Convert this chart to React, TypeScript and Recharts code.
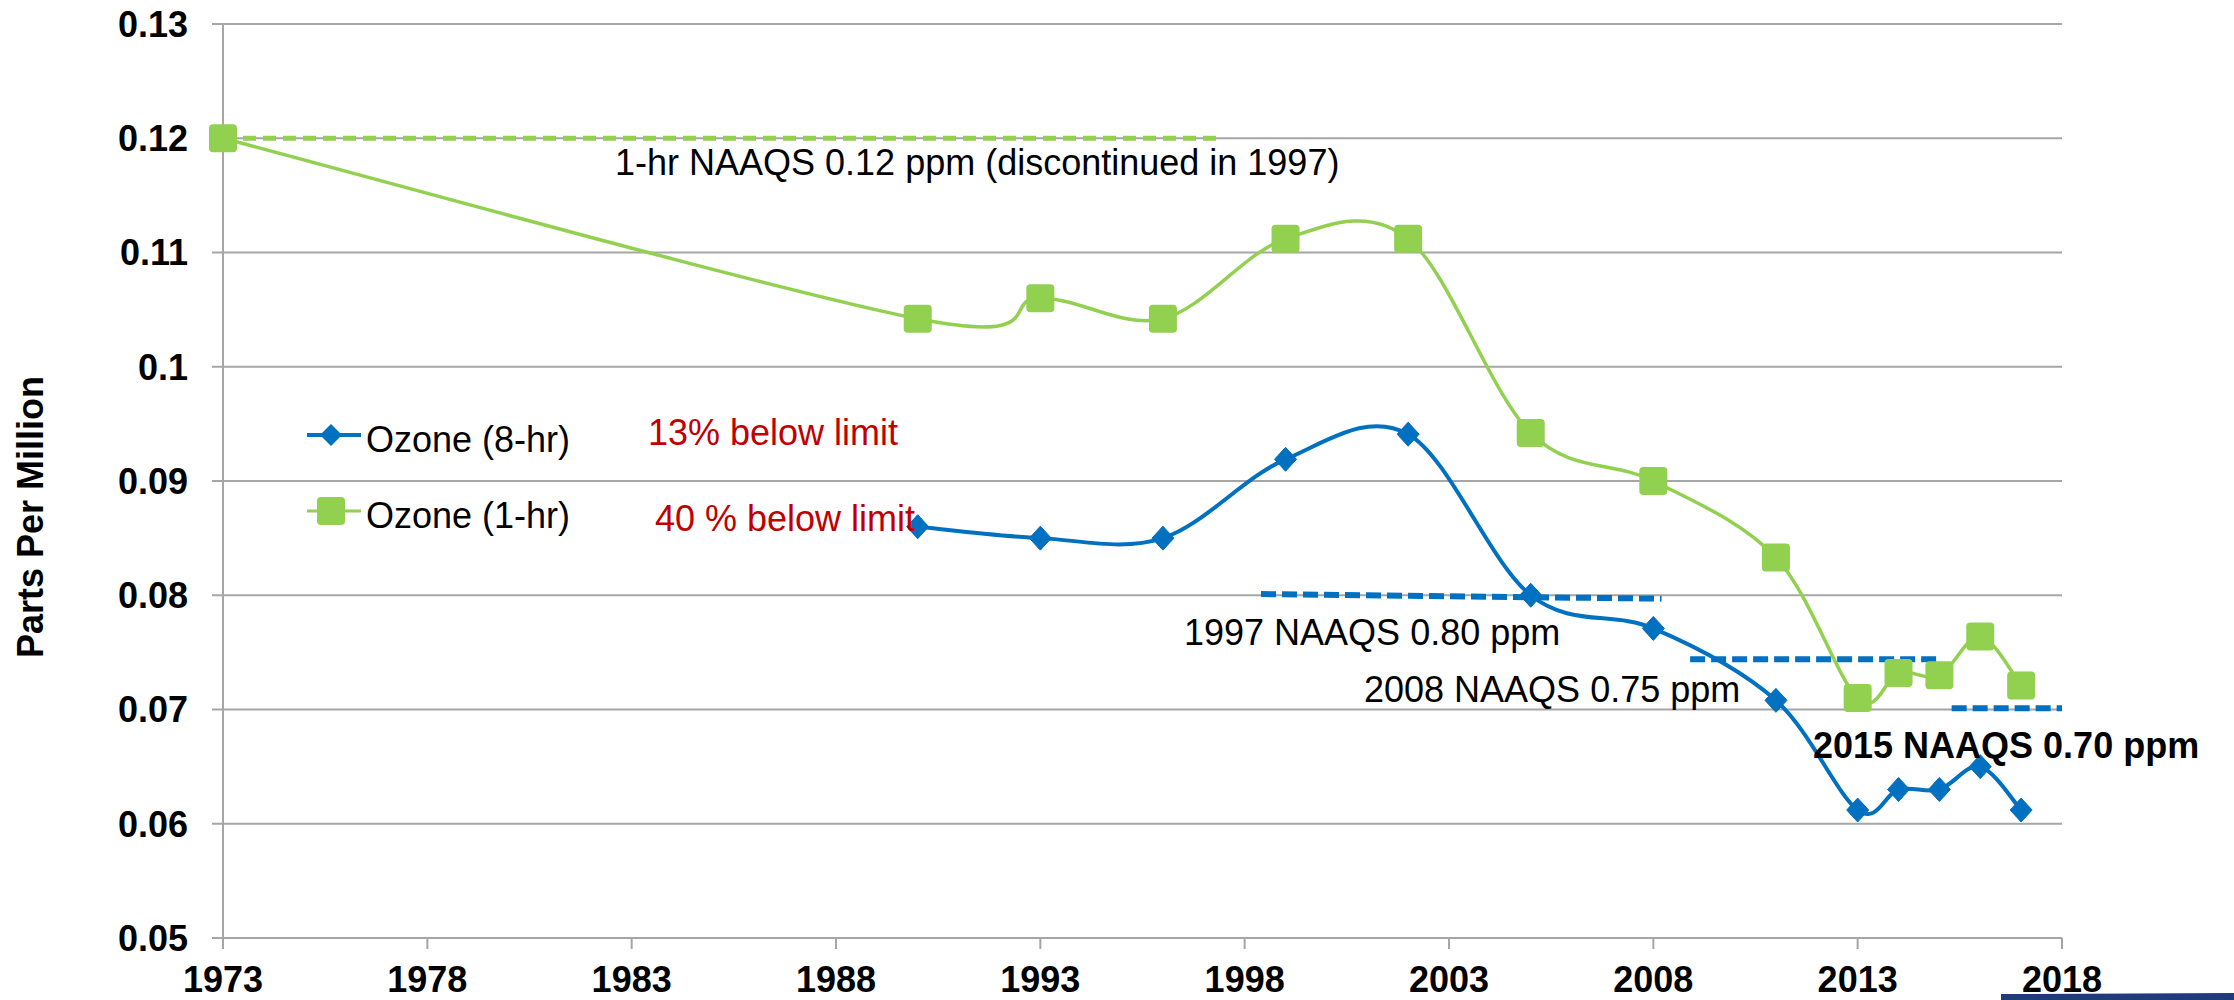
import { LineChart, Line, XAxis, YAxis, CartesianGrid, ReferenceLine, Legend } from 'recharts'

// ozone design values, ppm
const YEARS_8HR = [1990, 1993, 1996, 1999, 2002, 2005, 2008, 2011, 2013, 2014, 2015, 2016, 2017]
const OZONE_8HR = [0.086, 0.085, 0.085, 0.0919, 0.0941, 0.080, 0.0771, 0.0708, 0.0612, 0.063, 0.063, 0.065, 0.0612]

const YEARS_1HR = [1973, 1990, 1993, 1996, 1999, 2002, 2005, 2008, 2011, 2013, 2014, 2015, 2016, 2017]
const OZONE_1HR = [0.12, 0.1042, 0.106, 0.1042, 0.1112, 0.1112, 0.0942, 0.09, 0.0833, 0.071, 0.0732, 0.073, 0.0764, 0.0721]

const X_TICKS = [1973, 1978, 1983, 1988, 1993, 1998, 2003, 2008, 2013, 2018]
const Y_TICKS = [0.05, 0.06, 0.07, 0.08, 0.09, 0.1, 0.11, 0.12, 0.13]

// standards drawn as dashed segments: [x1, x2, y1, y2]
const STD_1HR = [1973, 1997.3, 0.12, 0.12]
const STD_8HR = [
  [1998.4, 2008.2, 0.0801, 0.0797],
  [2008.9, 2015.0, 0.0744, 0.0744],
  [2015.3, 2018, 0.0701, 0.0701],
]

const BLUE = '#0070C0'
const GREEN = '#92D050'
const GRID = '#A6A6A6'
const FONT = '"Liberation Sans", Arial, sans-serif'

const data8 = YEARS_8HR.map((year, i) => ({ year, value: OZONE_8HR[i] }))
const data1 = YEARS_1HR.map((year, i) => ({ year, value: OZONE_1HR[i] }))

// Excel-like smoothed line (catmull-rom through the points)
const smoothCurve = (context: any) => {
  let pts: number[][] = []
  return {
    areaStart() {},
    areaEnd() {},
    lineStart() { pts = [] },
    point(x: number, y: number) { pts.push([+x, +y]) },
    lineEnd() {
      const n = pts.length
      if (!n) return
      context.moveTo(pts[0][0], pts[0][1])
      const k = 1 / 6
      for (let i = 0; i < n - 1; i++) {
        const p0 = pts[Math.max(i - 1, 0)]
        const p1 = pts[i]
        const p2 = pts[i + 1]
        const p3 = pts[Math.min(i + 2, n - 1)]
        context.bezierCurveTo(
          p1[0] + (p2[0] - p0[0]) * k, p1[1] + (p2[1] - p0[1]) * k,
          p2[0] - (p3[0] - p1[0]) * k, p2[1] - (p3[1] - p1[1]) * k,
          p2[0], p2[1]
        )
      }
    },
  }
}

const Diamond = (props: any) => {
  const { cx, cy } = props
  if (cx == null || cy == null) return <g key={props.key} />
  return <polygon key={props.key} points={`${cx},${cy - 12} ${cx + 11},${cy} ${cx},${cy + 12} ${cx - 11},${cy}`} fill={BLUE} stroke={BLUE} strokeWidth={1} strokeLinejoin="round" />
}

const Square = (props: any) => {
  const { cx, cy } = props
  if (cx == null || cy == null) return <g key={props.key} />
  return <rect key={props.key} x={cx - 14} y={cy - 14} width={28} height={28} rx={4} fill={GREEN} />
}

const LegendBox = () => (
  <svg width={330} height={140} style={{ overflow: 'visible' }}>
    <line x1={7} y1={30} x2={61} y2={30} stroke={BLUE} strokeWidth={4} />
    <polygon points="31,19 42,30 31,41 20,30" fill={BLUE} />
    <text x={66} y={47} fontSize={36} fontFamily={FONT} fill="#000">Ozone (8-hr)</text>
    <line x1={7} y1={106} x2={61} y2={106} stroke={GREEN} strokeWidth={3} />
    <rect x={17} y={92} width={28} height={28} rx={4} fill={GREEN} />
    <text x={66} y={123} fontSize={36} fontFamily={FONT} fill="#000">Ozone (1-hr)</text>
  </svg>
)

const fmtY = (v: number) => String(Number(v.toFixed(2)))

export default function App() {
  return (
    <div style={{ position: 'absolute', left: 0, top: 0, width: 2234, height: 1000, background: '#fff', fontFamily: FONT }}>
      <LineChart width={2234} height={1000} margin={{ top: 24, right: 172, bottom: 0, left: 0 }}>
        <CartesianGrid vertical={false} stroke={GRID} strokeWidth={2} />
        <XAxis
          type="number"
          dataKey="year"
          domain={[1973, 2018]}
          ticks={X_TICKS}
          height={62}
          tickSize={11}
          tickMargin={17}
          axisLine={{ stroke: GRID, strokeWidth: 2 }}
          tickLine={{ stroke: GRID, strokeWidth: 2 }}
          tick={{ fill: '#000', fontSize: 36, fontWeight: 'bold', fontFamily: FONT }}
          interval={0}
        />
        <YAxis
          type="number"
          domain={[0.05, 0.13]}
          ticks={Y_TICKS}
          width={223}
          tickSize={11}
          tickMargin={24}
          tickFormatter={fmtY}
          axisLine={{ stroke: GRID, strokeWidth: 2 }}
          tickLine={{ stroke: GRID, strokeWidth: 2 }}
          tick={{ fill: '#000', fontSize: 36, fontWeight: 'bold', fontFamily: FONT }}
          interval={0}
          label={{
            content: () => (
              <text x={43} y={517} transform="rotate(-90, 43, 517)" textAnchor="middle" fontSize={36} fontWeight="bold" fontFamily={FONT} fill="#000">
                Parts Per Million
              </text>
            ),
          }}
        />
        <ReferenceLine
          segment={[{ x: STD_1HR[0], y: STD_1HR[2] }, { x: STD_1HR[1], y: STD_1HR[3] }]}
          stroke={GREEN}
          strokeWidth={5}
          strokeDasharray="13 7"
        />
        {STD_8HR.map((s, i) => (
          <ReferenceLine
            key={i}
            segment={[{ x: s[0], y: s[2] }, { x: s[1], y: s[3] }]}
            stroke={BLUE}
            strokeWidth={6}
            strokeDasharray="15 6"
            ifOverflow="extendDomain"
          />
        ))}
        <Line data={data1} dataKey="value" name="Ozone (1-hr)" type={smoothCurve as any} stroke={GREEN} strokeWidth={3.5} dot={Square} activeDot={false} isAnimationActive={false} />
        <Line data={data8} dataKey="value" name="Ozone (8-hr)" type={smoothCurve as any} stroke={BLUE} strokeWidth={4} dot={Diamond} activeDot={false} isAnimationActive={false} />
        <Legend
          layout="vertical"
          align="center"
          verticalAlign="middle"
          content={LegendBox}
          wrapperStyle={{ left: 300, top: 405, width: 330, height: 140 }}
        />
      </LineChart>

      {/* annotations */}
      <svg width={2234} height={1000} style={{ position: 'absolute', left: 0, top: 0, pointerEvents: 'none' }}>
        <g fontFamily={FONT} fontSize={36}>
          <text x={615} y={175} fill="#000">1-hr NAAQS 0.12 ppm (discontinued in 1997)</text>
          <text x={648} y={445} fill="#C00000">13% below limit</text>
          <text x={655} y={531} fill="#C00000">40 % below limit</text>
          <text x={1184} y={645} fill="#000">1997 NAAQS 0.80 ppm</text>
          <text x={1364} y={702} fill="#000">2008 NAAQS 0.75 ppm</text>
          <text x={1813} y={758} fill="#000" fontWeight="bold">2015 NAAQS 0.70 ppm</text>
        </g>
      </svg>
      <div style={{ position: 'absolute', left: 2001, top: 993, width: 233, height: 7, background: '#1F3B7C', clipPath: 'polygon(0 15%, 100% 0, 100% 100%, 0 100%)' }} />
    </div>
  )
}
